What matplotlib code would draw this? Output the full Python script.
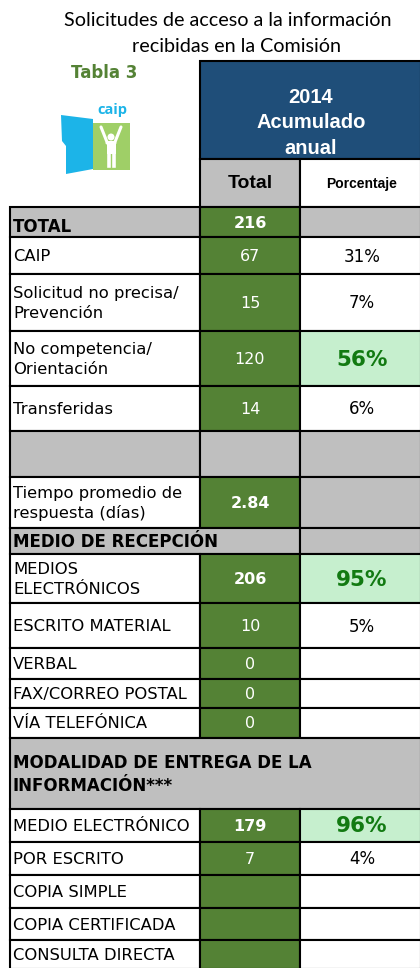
import matplotlib
matplotlib.use("Agg")
import matplotlib.pyplot as plt
from matplotlib.patches import Rectangle, Polygon, Circle

# table contents
title_lines = ["Solicitudes de acceso a la información", "recibidas en la Comisión"]
table_name = "Tabla 3"
header = "2014\nAcumulado\nanual"
col_names = ["Total", "Porcentaje"]

labels = ["TOTAL", "CAIP", "Solicitud no precisa/\nPrevención", "No competencia/\nOrientación",
          "Transferidas", "", "Tiempo promedio de\nrespuesta (días)", "MEDIO DE RECEPCIÓN",
          "MEDIOS\nELECTRÓNICOS", "ESCRITO MATERIAL", "VERBAL", "FAX/CORREO POSTAL",
          "VÍA TELEFÓNICA", "MODALIDAD DE ENTREGA DE LA\nINFORMACIÓN***", "MEDIO ELECTRÓNICO",
          "POR ESCRITO", "COPIA SIMPLE", "COPIA CERTIFICADA", "CONSULTA DIRECTA"]
totals = [216, 67, 15, 120, 14, None, 2.84, None, 206, 10, 0, 0, 0, None, 179, 7, None, None, None]
percentages = [None, 31, 7, 56, 6, None, None, None, 95, 5, None, None, None, None, 96, 4, None, None, None]
kinds = ["total", "item", "item", "item", "item", "blank", "time", "section", "item", "item",
         "item", "item", "item", "section_full", "item", "item", "item", "item", "item"]
bold_totals = [216, 2.84, 206, 179]
highlight_pct = [56, 95, 96]

# layout (pixels)
row_edges = [207, 237, 274, 331, 386, 431, 477, 528, 554, 603, 648, 679, 708, 738, 809, 842, 875, 908, 940, 969]
x0, x1, x2, x3 = 10, 200, 300, 421

GREEN = "#548235"
BLUE = "#1F4E79"
GRAY = "#BFBFBF"
LIGHT = "#C6EFCE"
DKGREEN = "#127A12"
CYAN = "#1CB4E8"
LEAF = "#9FCF67"
LW = 1.5

fig = plt.figure(figsize=(4.2, 9.68), dpi=100)
ax = fig.add_axes([0, 0, 1, 1])
ax.set_xlim(0, 420)
ax.set_ylim(968, 0)
ax.axis("off")


def cell(xa, xb, ya, yb, color):
    ax.add_patch(Rectangle((xa, ya), xb - xa, yb - ya, facecolor=color,
                           edgecolor="black", linewidth=LW))


# title
ax.text(228, 21, title_lines[0], ha="center", va="center", fontsize=14.2, family="Lato")
ax.text(237, 47, title_lines[1], ha="center", va="center", fontsize=14.2, family="Lato")
ax.text(104, 73, table_name, ha="center", va="center", fontsize=12, fontweight="bold",
        color=GREEN, family="DejaVu Sans")

# logo
ax.add_patch(Polygon([(61, 115), (93, 119), (93, 169), (66, 174), (66, 146), (62, 141)],
                     closed=True, facecolor=CYAN, edgecolor="none"))
ax.add_patch(Rectangle((93, 123), 37, 47, facecolor=LEAF, edgecolor="none"))
ax.add_patch(Circle((111, 137), 3.5, facecolor="white", edgecolor="none"))
ax.plot([101, 107, 107], [127, 142, 143], color="white", lw=2.2, solid_capstyle="round")
ax.plot([121, 115, 115], [127, 142, 143], color="white", lw=2.2, solid_capstyle="round")
ax.add_patch(Rectangle((106.5, 141), 9, 13, facecolor="white", edgecolor="none"))
ax.plot([108.5, 108.5], [153, 166], color="white", lw=2.6)
ax.plot([113.5, 113.5], [153, 166], color="white", lw=2.6)
ax.text(112, 110, "caip", ha="center", va="center", fontsize=10.5, fontweight="bold",
        color=CYAN, family="Open Sans")

# header
cell(x1, x3, 61, 159, BLUE)
ax.text(311, 123, header, ha="center", va="center", fontsize=14.5, fontweight="bold",
        color="white", family="Liberation Sans", linespacing=1.45)
cell(x1, x2, 159, 207, GRAY)
cell(x2, x3, 159, 207, "white")
ax.text(250, 184, col_names[0], ha="center", va="center", fontsize=14, fontweight="bold",
        family="Liberation Sans")
ax.text(362, 184, col_names[1], ha="center", va="center", fontsize=10, fontweight="bold",
        family="Liberation Sans")

# body
for i, (lab, tot, pct, kind) in enumerate(zip(labels, totals, percentages, kinds)):
    ya, yb = row_edges[i], row_edges[i + 1]
    ym = (ya + yb) / 2
    if kind == "section_full":
        cell(x0, x3, ya, yb, GRAY)
    elif kind == "section":
        cell(x0, x2, ya, yb, GRAY)
        cell(x2, x3, ya, yb, GRAY)
    else:
        cell(x0, x1, ya, yb, GRAY if kind in ("total", "blank") else "white")
        cell(x1, x2, ya, yb, GRAY if kind == "blank" else GREEN)
        hl = pct in highlight_pct
        c2 = GRAY if kind in ("total", "blank", "time") else (LIGHT if hl else "white")
        cell(x2, x3, ya, yb, c2)

    if lab:
        bold = kind in ("total", "section", "section_full")
        yt = ym + 5 if kind == "total" else ym + 1
        ax.text(x0 + 3, yt, lab, ha="left", va="center", fontsize=12 if bold else 11.8,
                fontweight="bold" if bold else "normal", family="DejaVu Sans", linespacing=1.38)
    if tot is not None:
        txt = f"{tot:.2f}" if isinstance(tot, float) else str(tot)
        ax.text((x1 + x2) / 2, ym + 1, txt, ha="center", va="center", color="white",
                fontsize=11.5, fontweight="bold" if tot in bold_totals else "normal",
                family="DejaVu Sans")
    if pct is not None:
        if pct in highlight_pct:
            ax.text(362, ym + 1, f"{pct}%", ha="center", va="center", color=DKGREEN,
                    fontsize=15.5, fontweight="bold", family="DejaVu Sans")
        else:
            ax.text(362, ym + 1, f"{pct}%", ha="center", va="center", fontsize=12,
                    family="DejaVu Sans")

fig.savefig("out.png", dpi=100)
